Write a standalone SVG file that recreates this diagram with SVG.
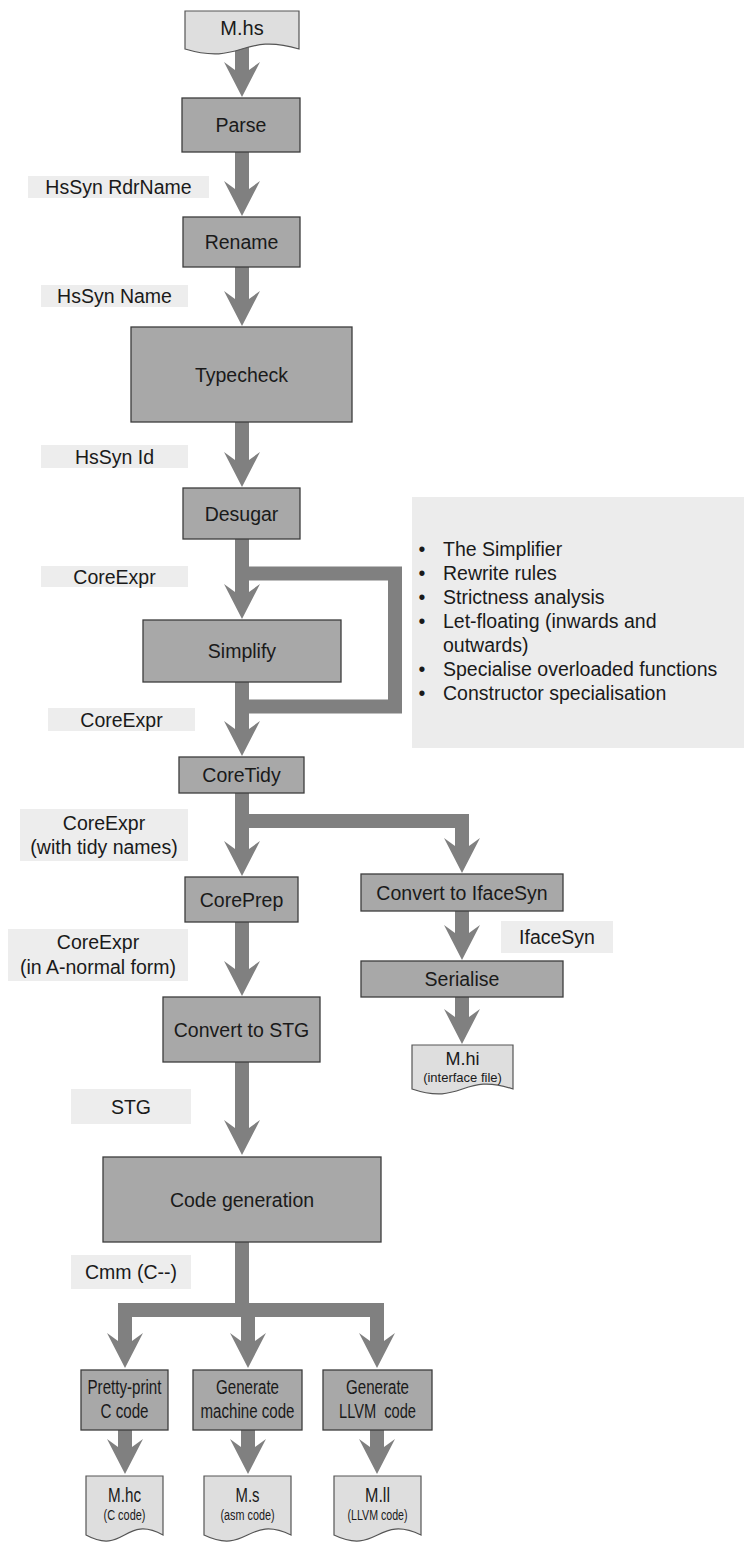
<svg xmlns="http://www.w3.org/2000/svg" width="744" height="1543" viewBox="0 0 744 1543">
<style>
  text { font-family: "Liberation Sans", Arial, sans-serif; fill: #1a1a1a; }
  .box { fill: #a8a8a8; stroke: #3c3c3c; stroke-width: 1.3; }
  .lbl { fill: #ededed; }
  .doc { fill: #dedede; stroke: #555555; stroke-width: 1.2; }
  .t { font-size: 19.5px; text-anchor: middle; }
  .tn { font-size: 20px; text-anchor: middle; }
  .ts { font-size: 14px; text-anchor: middle; }
  .conn { fill: none; stroke: #808080; stroke-width: 14; stroke-linejoin: miter; }
</style>
<defs>
  <marker id="ah" viewBox="0 0 35 36" refX="8" refY="18" markerWidth="35" markerHeight="36" markerUnits="userSpaceOnUse" orient="auto">
    <path d="M8,11 L0,0 L35,18 L0,36 L8,25 Z" fill="#808080"/>
  </marker>
</defs>
<rect width="744" height="1543" fill="#ffffff"/>

<g id="connectors">
  <path class="conn" d="M242,45 V70" marker-end="url(#ah)"/>
  <path class="conn" d="M242,152 V189" marker-end="url(#ah)"/>
  <path class="conn" d="M242,267 V299" marker-end="url(#ah)"/>
  <path class="conn" d="M242,422 V460" marker-end="url(#ah)"/>
  <path class="conn" d="M242,539 V592" marker-end="url(#ah)"/>
  <path class="conn" d="M242,573.5 H395 V706.5 H242"/>
  <path class="conn" d="M242,682 V729" marker-end="url(#ah)"/>
  <path class="conn" d="M242,793 V849" marker-end="url(#ah)"/>
  <path class="conn" d="M242,821 H462 V846" marker-end="url(#ah)"/>
  <path class="conn" d="M462,911 V933" marker-end="url(#ah)"/>
  <path class="conn" d="M462,997 V1017" marker-end="url(#ah)"/>
  <path class="conn" d="M242,922 V969" marker-end="url(#ah)"/>
  <path class="conn" d="M242,1062 V1128" marker-end="url(#ah)"/>
  <path class="conn" d="M242,1242 V1317"/>
  <path class="conn" d="M250,1310 H125 V1341" marker-end="url(#ah)"/>
  <path class="conn" d="M240,1310 H377 V1341" marker-end="url(#ah)"/>
  <path class="conn" d="M248,1303 V1341" marker-end="url(#ah)"/>
  <path class="conn" d="M125,1430 V1447" marker-end="url(#ah)"/>
  <path class="conn" d="M248,1430 V1447" marker-end="url(#ah)"/>
  <path class="conn" d="M377,1430 V1447" marker-end="url(#ah)"/>
</g>

<g id="n-mhs">
  <path class="doc" d="M185,11 H299 V49 C242,32 242,66 185,49 Z"/>
  <text class="tn" x="242" y="35">M.hs</text>
</g>
<g id="n-parse">
  <rect class="box" x="182" y="98" width="118" height="54"/>
  <text class="t" x="241" y="132">Parse</text>
</g>
<g id="l-hssyn-rdrname">
  <rect class="lbl" x="28" y="176" width="181" height="22"/>
  <text class="t" x="118.5" y="194">HsSyn RdrName</text>
</g>
<g id="n-rename">
  <rect class="box" x="183" y="217" width="117" height="50"/>
  <text class="t" x="241.5" y="249">Rename</text>
</g>
<g id="l-hssyn-name">
  <rect class="lbl" x="41" y="285" width="147" height="22"/>
  <text class="t" x="114.5" y="303">HsSyn Name</text>
</g>
<g id="n-typecheck">
  <rect class="box" x="131" y="327" width="221" height="95"/>
  <text class="t" x="241.5" y="381.5">Typecheck</text>
</g>
<g id="l-hssyn-id">
  <rect class="lbl" x="41" y="445" width="147" height="23"/>
  <text class="t" x="114.5" y="463.5">HsSyn Id</text>
</g>
<g id="n-desugar">
  <rect class="box" x="183" y="488" width="117" height="51"/>
  <text class="t" x="241.5" y="520.5">Desugar</text>
</g>
<g id="l-coreexpr1">
  <rect class="lbl" x="41" y="566" width="147" height="21"/>
  <text class="t" x="114.5" y="583.5">CoreExpr</text>
</g>
<g id="n-simplify">
  <rect class="box" x="143" y="620" width="198" height="62"/>
  <text class="t" x="242" y="658">Simplify</text>
</g>
<g id="l-coreexpr2">
  <rect class="lbl" x="48" y="708" width="147" height="23"/>
  <text class="t" x="121.5" y="726.5">CoreExpr</text>
</g>
<g id="n-simplifier-notes">
  <rect fill="#ececec" x="412" y="497" width="332" height="251"/>
  <text style="font-size:19.5px" x="422" y="556" text-anchor="middle">•</text>
  <text style="font-size:19.5px" x="422" y="580" text-anchor="middle">•</text>
  <text style="font-size:19.5px" x="422" y="604" text-anchor="middle">•</text>
  <text style="font-size:19.5px" x="422" y="628" text-anchor="middle">•</text>
  <text style="font-size:19.5px" x="422" y="676" text-anchor="middle">•</text>
  <text style="font-size:19.5px" x="422" y="700" text-anchor="middle">•</text>
  <text style="font-size:19.5px">
    <tspan x="443" y="556">The Simplifier</tspan>
    <tspan x="443" y="580">Rewrite rules</tspan>
    <tspan x="443" y="604">Strictness analysis</tspan>
    <tspan x="443" y="628">Let-floating (inwards and</tspan>
    <tspan x="443" y="652">outwards)</tspan>
    <tspan x="443" y="676">Specialise overloaded functions</tspan>
    <tspan x="443" y="700">Constructor specialisation</tspan>
  </text>
</g>
<g id="n-coretidy">
  <rect class="box" x="179" y="757" width="125" height="36"/>
  <text class="t" x="241.5" y="782">CoreTidy</text>
</g>
<g id="l-coreexpr-tidy">
  <rect class="lbl" x="20" y="809" width="168" height="52"/>
  <text class="t" x="104" y="830">CoreExpr</text>
  <text class="t" x="104" y="854">(with tidy names)</text>
</g>
<g id="n-coreprep">
  <rect class="box" x="185" y="877" width="113" height="45"/>
  <text class="t" x="241.5" y="906.5">CorePrep</text>
</g>
<g id="n-convert-iface">
  <rect class="box" x="361" y="874" width="202" height="37"/>
  <text class="t" x="462" y="899.5">Convert to IfaceSyn</text>
</g>
<g id="l-ifacesyn">
  <rect class="lbl" x="501" y="921" width="112" height="32"/>
  <text class="t" x="557" y="944">IfaceSyn</text>
</g>
<g id="n-serialise">
  <rect class="box" x="361" y="961" width="202" height="36"/>
  <text class="t" x="462" y="986">Serialise</text>
</g>
<g id="n-mhi">
  <path class="doc" d="M412,1045 H513 V1089 C462.5,1072 462.5,1106 412,1089 Z"/>
  <text class="t" style="font-size:18px" x="462.5" y="1064.5">M.hi</text>
  <text class="ts" style="font-size:13px" x="462.5" y="1082">(interface file)</text>
</g>
<g id="l-coreexpr-anf">
  <rect class="lbl" x="8" y="929" width="180" height="52"/>
  <text class="t" x="98" y="949">CoreExpr</text>
  <text class="t" x="98" y="974">(in A-normal form)</text>
</g>
<g id="n-convert-stg">
  <rect class="box" x="163" y="997" width="157" height="65"/>
  <text class="t" x="241.5" y="1036.5">Convert to STG</text>
</g>
<g id="l-stg">
  <rect class="lbl" x="71" y="1089" width="120" height="35"/>
  <text class="t" x="131" y="1113.5">STG</text>
</g>
<g id="n-codegen">
  <rect class="box" x="103" y="1157" width="278" height="85"/>
  <text class="t" x="242" y="1206.5">Code generation</text>
</g>
<g id="l-cmm">
  <rect class="lbl" x="71" y="1255" width="120" height="34"/>
  <text class="t" x="131" y="1279">Cmm (C--)</text>
</g>
<g id="n-prettyprint">
  <rect class="box" x="81" y="1370" width="87" height="60"/>
  <text class="tn" x="124.5" y="1394" textLength="74" lengthAdjust="spacingAndGlyphs">Pretty-print</text>
  <text class="tn" x="124.5" y="1418" textLength="48" lengthAdjust="spacingAndGlyphs">C code</text>
</g>
<g id="n-genmachine">
  <rect class="box" x="193" y="1370" width="109" height="60"/>
  <text class="tn" x="247.5" y="1394" textLength="63" lengthAdjust="spacingAndGlyphs">Generate</text>
  <text class="tn" x="247.5" y="1418" textLength="94" lengthAdjust="spacingAndGlyphs">machine code</text>
</g>
<g id="n-genllvm">
  <rect class="box" x="323" y="1370" width="109" height="60"/>
  <text class="tn" x="377.5" y="1394" textLength="63" lengthAdjust="spacingAndGlyphs">Generate</text>
  <text class="tn" x="377.5" y="1418" textLength="77" lengthAdjust="spacingAndGlyphs" xml:space="preserve">LLVM  code</text>
</g>
<g id="n-mhc">
  <path class="doc" d="M86,1476 H163 V1535 C124.5,1514 124.5,1556 86,1535 Z"/>
  <text class="tn" style="font-size:21px" x="124.5" y="1501.5" textLength="33" lengthAdjust="spacingAndGlyphs">M.hc</text>
  <text class="ts" x="124.5" y="1520" textLength="42" lengthAdjust="spacingAndGlyphs">(C code)</text>
</g>
<g id="n-ms">
  <path class="doc" d="M204,1476 H291 V1535 C247.5,1514 247.5,1556 204,1535 Z"/>
  <text class="tn" style="font-size:21px" x="247.5" y="1501.5" textLength="24" lengthAdjust="spacingAndGlyphs">M.s</text>
  <text class="ts" x="247.5" y="1520" textLength="54" lengthAdjust="spacingAndGlyphs">(asm code)</text>
</g>
<g id="n-mll">
  <path class="doc" d="M334,1476 H421 V1535 C377.5,1514 377.5,1556 334,1535 Z"/>
  <text class="tn" style="font-size:21px" x="377.5" y="1501.5" textLength="25" lengthAdjust="spacingAndGlyphs">M.ll</text>
  <text class="ts" x="377.5" y="1520" textLength="60" lengthAdjust="spacingAndGlyphs">(LLVM code)</text>
</g>
</svg>
